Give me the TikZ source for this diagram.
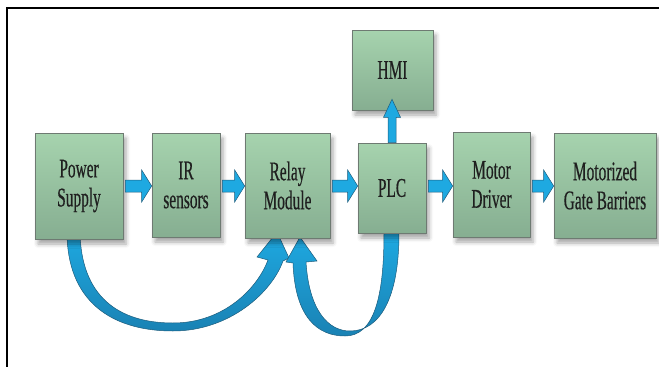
\documentclass[tikz,border=0pt]{standalone}
\usepackage{fontspec}
\setmainfont[FakeStretch=0.57,FakeBold=0.4]{Liberation Serif}
\usetikzlibrary{calc,shadows.blur}

\definecolor{boxtop}{HTML}{A6D3AE}
\definecolor{boxmid}{HTML}{8BB596}
\definecolor{boxbot}{HTML}{86AE91}
\definecolor{boxline}{HTML}{6E7A72}
\definecolor{flow}{HTML}{1EA9E1}
\definecolor{flowdark}{HTML}{1A82B4}
\definecolor{flowline}{HTML}{1D5C7C}

\tikzset{
  block/.style={draw=boxline, line width=0.6pt,
    top color=boxtop, middle color=boxmid, bottom color=boxbot,
    text=black!88, align=center, inner sep=0pt,
    font=\fontsize{27}{29}\selectfont,
    blur shadow={shadow xshift=3pt, shadow yshift=-5pt,
      shadow blur radius=4pt, shadow opacity=35}},
  barrow/.style={fill=flow, draw=flowline, line width=0.5pt, line join=miter},
  ribbon/.style={top color=flow, bottom color=flowdark, draw=flowline,
    line width=0.5pt, line join=miter}
}

% horizontal block arrow between two boxes, along the row coordinate
\newcommand\rarrow[2]{%
  \draw[barrow]
    ($(#1.east |- row)+(2,-6)$) -- ($(#2.west |- row)+(-10,-6)$)
    -- ($(#2.west |- row)+(-10,-16)$) -- (#2.west |- row)
    -- ($(#2.west |- row)+(-10,16)$) -- ($(#2.west |- row)+(-10,6)$)
    -- ($(#1.east |- row)+(2,6)$) -- cycle;}

\begin{document}
\begin{tikzpicture}[x=1pt,y=-1pt]
\useasboundingbox (0,0) rectangle (659,367);

% frame
\draw[line width=2pt] (7,367) -- (7,8) -- (659,8);

\coordinate (row) at (0,186);

% curved feedback ribbons (drawn first, boxes sit on top)
\draw[ribbon]
  (67,232) .. controls (67,300) and (110,331) .. (173,331)
           .. controls (230,331) and (272,292) .. (283,261)
  -- (289,258) -- (277,232) -- (257,257) -- (268,260)
           .. controls (258,287) and (225,323) .. (173,323)
           .. controls (118,323) and (81,296) .. (80,232) -- cycle;

\draw[ribbon]
  (399,233) .. controls (399,298) and (380,331) .. (350,331)
            .. controls (328,331) and (309,310) .. (306,262)
  -- (317,261) -- (300,237) -- (286,262) -- (293,263)
            .. controls (295,318) and (318,336) .. (345,336)
            .. controls (373,336) and (384,300) .. (384,233) -- cycle;

% blocks
\node[block, minimum width=88pt, minimum height=106pt] (ps)  at (79,186)    {Power\\Supply};
\node[block, minimum width=68pt, minimum height=104pt] (ir)  at (186,185)   {IR\\sensors};
\node[block, minimum width=85pt, minimum height=105pt] (rm)  at (287.5,185.5) {Relay\\Module};
\node[block, minimum width=68pt, minimum height=90pt]  (plc) at (392,188)   {PLC};
\node[block, minimum width=77pt, minimum height=105pt] (md)  at (491.5,184.5) {Motor\\Driver};
\node[block, minimum width=102pt, minimum height=105pt] (gb) at (605,185.5) {Motorized\\Gate Barriers};
\node[block, minimum width=81pt, minimum height=80pt]  (hmi) at (392.5,70)  {HMI};

% forward flow
\rarrow{ps}{ir}
\rarrow{ir}{rm}
\rarrow{rm}{plc}
\rarrow{plc}{md}
\rarrow{md}{gb}

% PLC up to HMI
\draw[barrow]
  ($(plc.north)+(-4,0)$) -- ($(hmi.south -| plc.north)+(-4,7)$)
  -- ($(hmi.south -| plc.north)+(-8.5,7)$) -- ($(hmi.south -| plc.north)+(0,-11)$)
  -- ($(hmi.south -| plc.north)+(8.5,7)$) -- ($(hmi.south -| plc.north)+(4,7)$)
  -- ($(plc.north)+(4,0)$) -- cycle;
\end{tikzpicture}
\end{document}
